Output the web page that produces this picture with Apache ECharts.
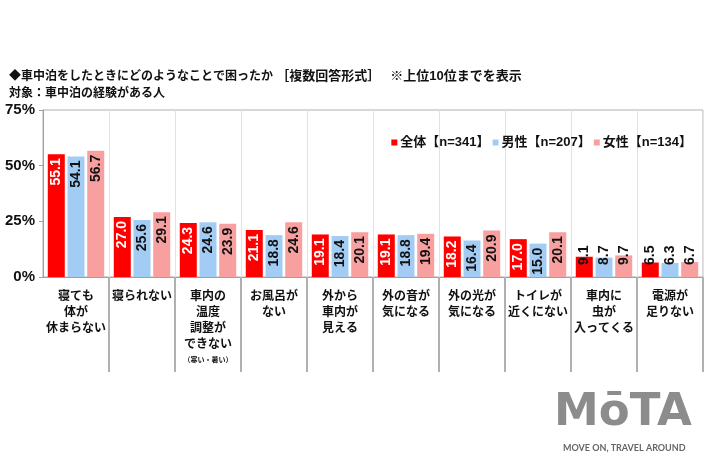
<!DOCTYPE html>
<html><head><meta charset="utf-8">
<script src="https://cdn.jsdelivr.net/npm/echarts@6/dist/echarts.min.js"></script>
<style>html,body{margin:0;padding:0;background:#fff}#c{width:710px;height:473px}</style>
</head><body><div id="c"></div>
<script>
const categories = ['寝ても\n体が\n休まらない','寝られない','車内の\n温度\n調整が\nできない\n{s|（寒い・暑い）}','お風呂が\nない','外から\n車内が\n見える','外の音が\n気になる','外の光が\n気になる','トイレが\n近くにない','車内に\n虫が\n入ってくる','電源が\n足りない'];
const seriesNames = ['全体【n=341】','男性【n=207】','女性【n=134】'];
const allValues = [55.1, 27.0, 24.3, 21.1, 19.1, 19.1, 18.2, 17.0, 9.1, 6.5];
const maleValues = [54.1, 25.6, 24.6, 18.8, 18.4, 18.8, 16.4, 15.0, 8.7, 6.3];
const femaleValues = [56.7, 29.1, 23.9, 24.6, 20.1, 19.4, 20.9, 20.1, 9.7, 6.7];
const yTicks = [0, 25, 50, 75];

const FONT = '"Liberation Sans", "Noto Sans CJK JP", sans-serif';
const colors = ['#ff0000', '#a3ccf5', '#f8a0a0'];
const labelColors = ['#ffffff', '#111111', '#111111'];

function mkData(vals) {
  return vals.map(v => v < 12 ? {value: v, label: {position: 'insideBottom', distance: 12, align: 'left', color: '#111111'}} : v);
}
function mkSeries(i, vals) {
  return {
    name: seriesNames[i], type: 'bar', data: mkData(vals),
    barWidth: 17, barGap: '16%',
    itemStyle: {color: colors[i]},
    label: {show: true, position: 'insideTop', distance: 4, rotate: 90, align: 'right', verticalAlign: 'middle',
      color: labelColors[i], fontSize: 14, fontWeight: 'bold', fontFamily: FONT,
      formatter: p => p.value.toFixed(1)}
  };
}
const chart = echarts.init(document.getElementById('c'), null, {renderer: 'canvas'});
chart.setOption({
  animation: false,
  backgroundColor: '#fff',
  title: {
    text: '{a|◆車中泊をしたときにどのようなことで困ったか} {b|［複数回答形式］}   {b|※上位10位までを表示}\n{a|対象：車中泊の経験がある人}',
    left: 4, top: 63,
    textStyle: {fontSize: 12, fontWeight: 'bold', color: '#111', fontFamily: FONT, lineHeight: 17,
      rich: {
        a: {fontSize: 12, fontWeight: 'bold', color: '#111', fontFamily: FONT, lineHeight: 17},
        b: {fontSize: 13, fontWeight: 'bold', color: '#111', fontFamily: FONT, lineHeight: 17}
      }}
  },
  legend: {
    data: seriesNames, right: 13, top: 131, itemWidth: 6, itemHeight: 6, itemGap: 3,
    icon: 'rect',
    textStyle: {fontSize: 13, fontWeight: 'bold', color: '#111', fontFamily: FONT, padding: [0, 0, 0, -2]}
  },
  grid: {left: 43, right: 7, top: 110, bottom: 196, show: true, borderColor: '#b0b0b0', borderWidth: 1},
  xAxis: {
    type: 'category', data: categories,
    axisLine: {lineStyle: {color: '#a0a0a0'}},
    axisTick: {show: true, length: 95, interval: (i) => i > 0, lineStyle: {color: '#b0b0b0', width: 2}},
    splitLine: {show: true, lineStyle: {color: '#e2e2e2'}},
    axisLabel: {interval: 0, margin: 12, fontSize: 12, fontWeight: 'bold', color: '#111', fontFamily: FONT, lineHeight: 16,
      rich: {s: {fontSize: 7, fontWeight: 'bold', color: '#111', lineHeight: 14, fontFamily: FONT}}}
  },
  yAxis: {
    type: 'value', min: yTicks[0], max: yTicks[yTicks.length - 1], interval: 25,
    axisLine: {show: true, lineStyle: {color: '#a0a0a0'}},
    axisTick: {show: true, length: 4, lineStyle: {color: '#a0a0a0'}},
    splitLine: {show: false},
    axisLabel: {formatter: '{value}%', fontSize: 15, fontWeight: 'bold', color: '#111', fontFamily: FONT, margin: 8}
  },
  series: [mkSeries(0, allValues), mkSeries(1, maleValues), mkSeries(2, femaleValues)],
  graphic: [
    {type: 'text', left: 554, top: 391, style: {text: 'MōTA', fontSize: 45, fontWeight: 'bold', fill: '#8c8c8c', fontFamily: '"DejaVu Sans", sans-serif'}},
    {type: 'text', left: 563, top: 444, style: {text: 'MOVE ON, TRAVEL AROUND', fontSize: 9, fill: '#666', fontFamily: '"Lato", sans-serif', fontWeight: 'bold'}}
  ]
});
</script></body></html>
